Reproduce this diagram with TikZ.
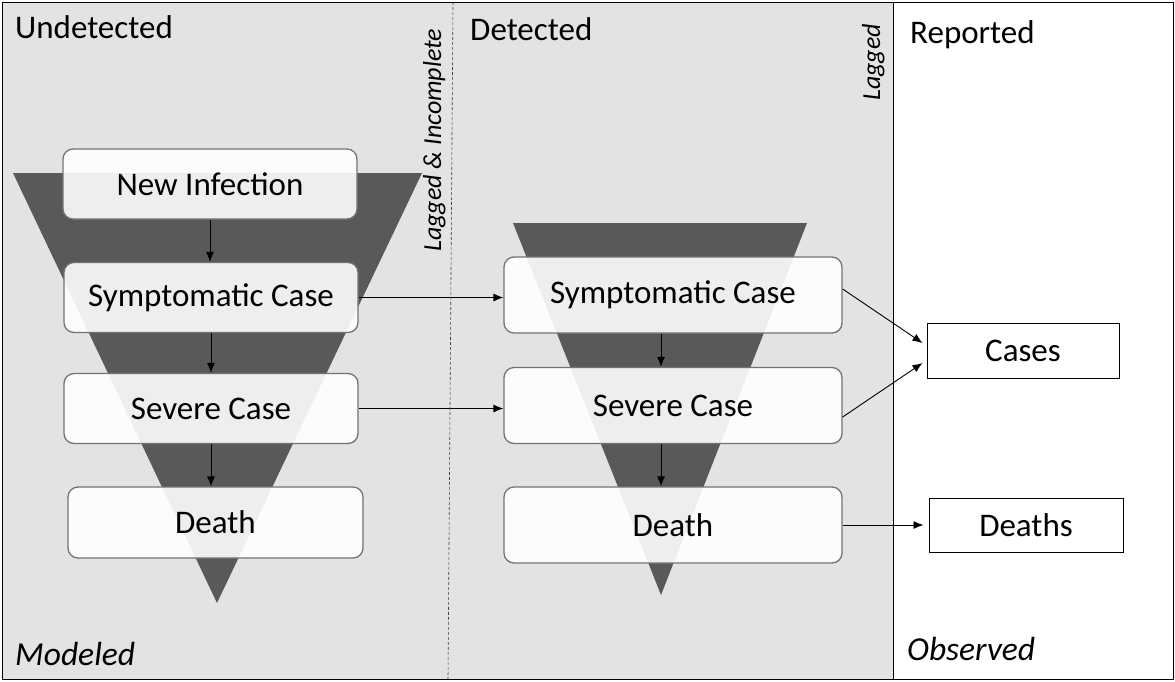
\documentclass[tikz,border=0pt]{standalone}
\usepackage{fontspec}
\setmainfont{Carlito}
\usetikzlibrary{arrows.meta}

\begin{document}
\begin{tikzpicture}[x=1pt,y=-1pt]
	\tikzstyle{every node}=[inner sep=0pt]
	\tikzstyle{stage}=[draw=black!55, line width=1.3pt, rounded corners=10pt, fill=white, fill opacity=.9, text opacity=1, font=\fontsize{33}{39}\selectfont]
	\tikzstyle{lbox}=[stage, minimum width=294, minimum height=70]
	\tikzstyle{rbox}=[stage, minimum width=338, minimum height=76]
	\tikzstyle{report}=[draw, line width=1pt, fill=white, font=\fontsize{33}{39}\selectfont]
	\tikzstyle{head}=[anchor=base west, font=\fontsize{33}{39}\selectfont]
	\tikzstyle{note}=[anchor=base west, font=\fontsize{26}{31}\selectfont\itshape]
	\tikzstyle{side}=[anchor=base west, font=\fontsize{33.5}{40}\selectfont\itshape]
	\tikzstyle{flow}=[line width=.9pt, -{Latex[length=10pt,width=8pt]}]
	\tikzstyle{funnel}=[fill=black!65]
	\useasboundingbox (0,0) rectangle (1175,681);
	\fill[black!11] (2,2) rectangle (893,679);
	% funnels
	\fill[funnel] (13,173) -- (422,173) -- (217,603) coordinate (aL) -- cycle;
	\fill[funnel] (513,223) -- (807,223) -- (661,595) coordinate (aR) -- cycle;
	% undetected
	\node (nI) [lbox] at (210,184) {New Infection};
	\node (sL) [lbox] at (211,297.5) {Symptomatic Case};
	\node (vL) [lbox] at (211,408.5) {Severe Case};
	\node (dL) [lbox, minimum width=295, minimum height=71] at (215.5,522.5) {Death};
	% detected
	\node (sR) [rbox] at (673,295) {Symptomatic Case};
	\node (vR) [rbox] at (673,405.5) {Severe Case};
	\node (dR) [rbox] at (673,525) {Death};
	% reported
	\node (cases) [report, minimum width=192, minimum height=55] at (1023,350.5) {Cases};
	\node (deaths) [report, minimum width=194, minimum height=54] at (1026,525) {Deaths};
	\draw[flow] (nI.south) -- (nI.south |- sL.north);
	\draw[flow] (sL.south) -- (sL.south |- vL.north);
	\draw[flow] (vL.south) -- (vL.south |- dL.north);
	\draw[flow] (sR.south -| aR) -- (vR.north -| aR);
	\draw[flow] (vR.south -| aR) -- (dR.north -| aR);
	\draw[flow] (sL.east) -- (sL.east -| sR.west);
	\draw[flow] (vL.east) -- (vL.east -| vR.west);
	\draw[flow] ([yshift=6pt]sR.east) -- ([xshift=-4pt,yshift=7.5pt]cases.west);
	\draw[flow] ([yshift=-11.5pt]vR.east) -- ([xshift=-4pt,yshift=-12.5pt]cases.west);
	\draw[flow] (dR.east) -- ([xshift=-5pt]deaths.west);
	% labels
	\node (undet) [head] at (15,38) {Undetected};
	\node (det) [head] at (470,40) {Detected};
	\node (rep) [head] at (910,43) {Reported};
	\node (lagInc) [note, rotate=90] at (441,252) {Lagged \& Incomplete};
	\node (lag) [note, rotate=90] at (880,101) {Lagged};
	\node (mod) [side] at (15,665) {Modeled};
	\node (obs) [side] at (907,660) {Observed};
	% frame
	\draw[densely dashed, line width=.6pt, black!75] (453,2) -- (448,679);
	\draw[line width=1pt] (893,2) -- (893,679);
	\draw[line width=1pt] (2,2) rectangle (1173,679);
\end{tikzpicture}
\end{document}
